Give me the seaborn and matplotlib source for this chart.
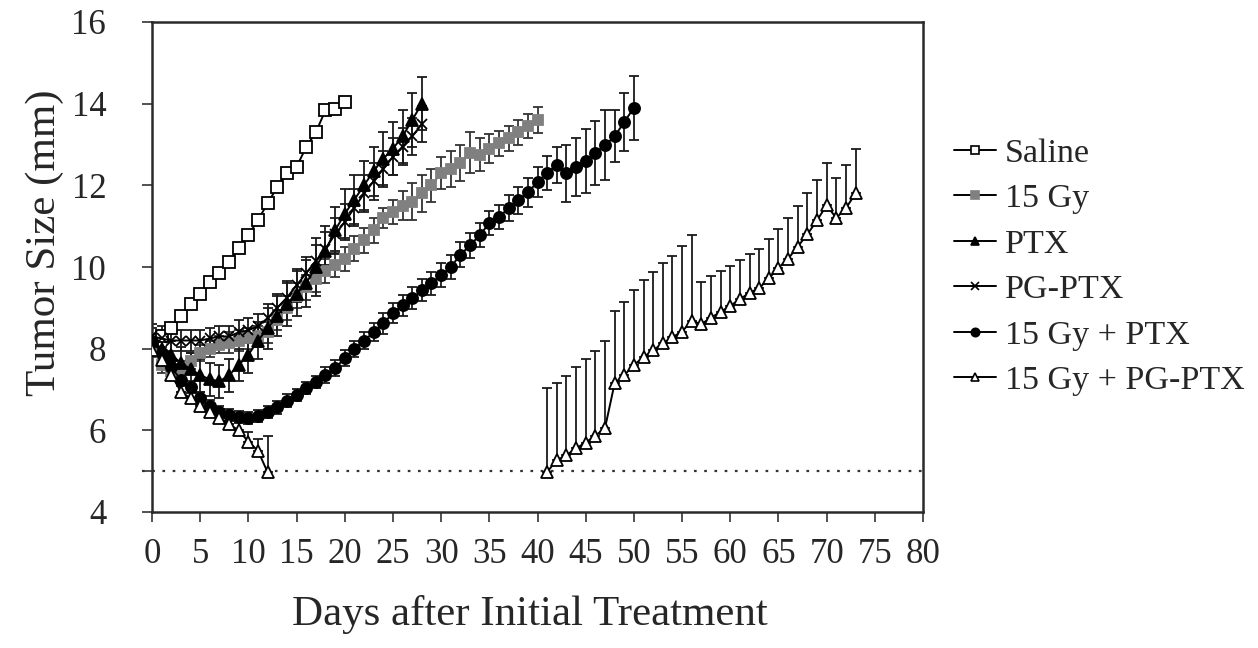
import matplotlib
matplotlib.use("Agg")
import matplotlib.pyplot as plt
import seaborn as sns
import pandas as pd
import numpy as np
from matplotlib.lines import Line2D

# ---- data ----
days_saline = list(range(0, 21))
saline = [8.1, 8.3, 8.5, 8.8, 9.1, 9.35, 9.63, 9.85, 10.12, 10.46, 10.78,
          11.15, 11.56, 11.96, 12.3, 12.45, 12.94, 13.3, 13.84, 13.86, 14.05]

days_gy = list(range(0, 41))
gy15 = [8.0, 7.6, 7.45, 7.5, 7.7, 7.9, 8.0, 8.1, 8.15, 8.2, 8.25, 8.3, 8.4, 8.7,
        9.0, 9.3, 9.5, 9.7, 9.9, 10.05, 10.2, 10.45, 10.65, 10.9, 11.2, 11.35,
        11.5, 11.6, 11.8, 12.0, 12.3, 12.4, 12.55, 12.8, 12.75, 12.9, 13.03,
        13.15, 13.3, 13.45, 13.6]
gy15_err = [0.2, 0.2, 0.2, 0.2, 0.2, 0.2, 0.2, 0.2, 0.25, 0.25, 0.25, 0.25, 0.25,
            0.25, 0.3, 0.3, 0.3, 0.3, 0.3, 0.3, 0.3, 0.3, 0.3, 0.3, 0.25, 0.3,
            0.35, 0.45, 0.45, 0.4, 0.4, 0.45, 0.45, 0.5, 0.4, 0.35, 0.3, 0.3,
            0.3, 0.3, 0.33]

days_ptx = list(range(0, 29))
ptx = [8.2, 8.0, 7.85, 7.65, 7.5, 7.35, 7.25, 7.2, 7.35, 7.6, 7.85, 8.2, 8.5,
       8.8, 9.1, 9.35, 9.6, 10.0, 10.4, 10.9, 11.3, 11.65, 12.0, 12.35, 12.65,
       12.9, 13.2, 13.6, 14.0]
ptx_err = [0.3, 0.3, 0.35, 0.4, 0.4, 0.4, 0.4, 0.4, 0.4, 0.4, 0.45, 0.45, 0.5,
           0.5, 0.55, 0.55, 0.57, 0.7, 0.6, 0.57, 0.6, 0.6, 0.6, 0.6, 0.65,
           0.65, 0.65, 0.65, 0.65]

days_pg = list(range(0, 29))
pg_ptx = [8.3, 8.25, 8.2, 8.2, 8.2, 8.2, 8.25, 8.3, 8.3, 8.4, 8.45, 8.55, 8.75,
          9.0, 9.25, 9.55, 9.85, 10.15, 10.45, 10.8, 11.1, 11.45, 11.8, 12.1,
          12.4, 12.7, 12.95, 13.2, 13.5]
pg_ptx_err = [0.3, 0.3, 0.25, 0.25, 0.25, 0.25, 0.25, 0.25, 0.25, 0.3, 0.3,
              0.3, 0.35, 0.35, 0.35, 0.4, 0.4, 0.4, 0.4, 0.4, 0.45, 0.45, 0.45,
              0.45, 0.45, 0.45, 0.45, 0.45, 0.45]

days_combo = list(range(0, 51))
gy_ptx = [8.2, 7.9, 7.55, 7.23, 7.06, 6.8, 6.6, 6.44, 6.37, 6.32, 6.3, 6.35,
          6.44, 6.56, 6.73, 6.86, 7.03, 7.18, 7.35, 7.52, 7.77, 8.0, 8.2, 8.4,
          8.62, 8.87, 9.06, 9.23, 9.43, 9.6, 9.8, 10.0, 10.3, 10.53, 10.78,
          11.07, 11.22, 11.44, 11.64, 11.83, 12.08, 12.3, 12.5, 12.3, 12.45,
          12.6, 12.8, 12.98, 13.2, 13.55, 13.9]
gy_ptx_err = [0.15, 0.15, 0.15, 0.15, 0.15, 0.15, 0.15, 0.15, 0.15, 0.15, 0.15,
              0.15, 0.15, 0.15, 0.15, 0.15, 0.15, 0.15, 0.2, 0.2, 0.2, 0.2, 0.2,
              0.22, 0.25, 0.25, 0.25, 0.27, 0.27, 0.28, 0.29, 0.29, 0.3, 0.3,
              0.3, 0.29, 0.3, 0.32, 0.33, 0.35, 0.37, 0.41, 0.45, 0.7, 0.7,
              0.78, 0.78, 0.86, 0.64, 0.7, 0.78]

days_pg_combo_a = list(range(0, 13))
gy_pg_a = [7.96, 7.72, 7.35, 6.95, 6.78, 6.6, 6.45, 6.3, 6.15, 6.0, 5.72, 5.5, 4.97]
gy_pg_a_err = [0.2, 0.2, 0.2, 0.2, 0.2, 0.2, 0.2, 0.2, 0.2, 0.2, 0.25, 0.3, 0.9]

days_pg_combo_b = list(range(41, 74))
gy_pg_b = [4.98, 5.27, 5.39, 5.56, 5.7, 5.87, 6.05, 7.15, 7.35, 7.6, 7.79, 7.96,
           8.13, 8.28, 8.42, 8.68, 8.6, 8.76, 8.9, 9.05, 9.21, 9.37, 9.48, 9.72,
           9.98, 10.2, 10.5, 10.8, 11.14, 11.51, 11.2, 11.44, 11.8]
gy_pg_b_err = [2.05, 1.9, 1.93, 1.98, 2.04, 2.07, 2.13, 1.77, 1.79, 1.83, 1.89,
               1.91, 1.97, 2.0, 2.1, 2.1, 1.03, 1.01, 0.99, 0.97, 0.95, 0.95,
               0.95, 0.96, 0.95, 1.0, 1.0, 1.02, 1.0, 1.04, 0.98, 1.06, 1.1]

x_ticks = list(range(0, 81, 5))
y_ticks = [4, 6, 8, 10, 12, 14, 16]
threshold = 5

sns.set_theme(style="white")
plt.rcParams['font.family'] = ['Liberation Serif', 'DejaVu Serif']

fig = plt.figure(figsize=(12.58, 6.48), dpi=100)
ax = fig.add_axes([152 / 1258, 1 - 512 / 648, 771 / 1258, 490 / 648])

# series: (label, days, values, errors, upper_only, style)
series = [
    ("Saline", days_saline, saline, None, False,
     dict(marker='s', ms=8, mfc='white', mec='black', color='black')),
    ("15 Gy", days_gy, gy15, gy15_err, False,
     dict(marker='s', ms=7, mfc='#808080', mec='#808080', color='#707070')),
    ("PTX", days_ptx, ptx, ptx_err, False,
     dict(marker='^', ms=8, mfc='black', mec='black', color='black')),
    ("PG-PTX", days_pg, pg_ptx, pg_ptx_err, False,
     dict(marker='x', ms=7, mfc='black', mec='black', color='black')),
    ("15 Gy + PTX", days_combo, gy_ptx, gy_ptx_err, False,
     dict(marker='o', ms=8, mfc='black', mec='black', color='black')),
    ("15 Gy + PG-PTX", days_pg_combo_a, gy_pg_a, gy_pg_a_err, True,
     dict(marker='^', ms=9, mfc='white', mec='black', color='black')),
    (None, days_pg_combo_b, gy_pg_b, gy_pg_b_err, True,
     dict(marker='^', ms=9, mfc='white', mec='black', color='black')),
]

ax.axhline(threshold, xmin=-0.013, xmax=1.007, color='#333333', lw=1.6,
           linestyle=(0, (1.2, 3.4)), clip_on=False, zorder=1)

for label, d, v, e, upper, st in series:
    if e is not None:
        yerr = [np.zeros(len(e)), e] if upper else e
        ax.errorbar(d, v, yerr=yerr, fmt='none', ecolor='#1a1a1a' if st['color'] == 'black' else '#333333',
                    elinewidth=1.3, capsize=3.5, capthick=1.3, zorder=2)
    df = pd.DataFrame({'day': d, 'size': v})
    sns.lineplot(data=df, x='day', y='size', ax=ax, estimator=None, errorbar=None,
                 color=st['color'], linewidth=1.4, marker=st['marker'],
                 markersize=st['ms'], markerfacecolor=st['mfc'],
                 markeredgecolor=st['mec'], markeredgewidth=1.3, zorder=3,
                 legend=False)

ax.set_xlim(0, 80)
ax.set_ylim(4, 16)
ax.set_xticks(x_ticks)
ax.set_yticks(y_ticks)
ax.set_yticks([threshold], minor=True)
ax.tick_params(axis='both', which='both', direction='out', length=7, width=1.2,
               color='#333333', labelsize=25, left=True, bottom=True)
ax.tick_params(axis='x', pad=12)
ax.tick_params(axis='y', pad=26)
for s in ax.spines.values():
    s.set_color('#2a2a2a')
    s.set_linewidth(1.8)

ax.set_xlabel("Days after Initial Treatment", fontsize=31)
ax.set_ylabel("Tumor Size (mm)", fontsize=31)
ax.xaxis.set_label_coords(0.49, -0.17)
ax.yaxis.label.set_va('center')
ax.yaxis.set_label_coords(-0.139, 0.55)

handles = []
for label, d, v, e, upper, st in series:
    if label is None:
        continue
    handles.append(Line2D([], [], color='black', lw=1.4, marker=st['marker'],
                          ms=6, mfc=st['mfc'], mec=st['mec'], mew=1.2, label=label))
fig.legend(handles=handles, loc='center left',
           bbox_to_anchor=(940 / 1258, 1 - 267 / 648), frameon=False,
           fontsize=24.5, handlelength=1.25, handletextpad=0.25, labelspacing=0.43,
           borderaxespad=0)

fig.savefig("out.png", dpi=100)
